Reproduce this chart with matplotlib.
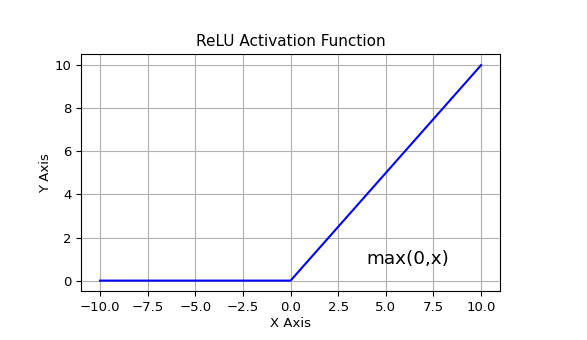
import numpy as np
import matplotlib.pyplot as plt

x = [-10.0, 0.0, 10.0]
y = [0.0, 0.0, 10.0]

fig = plt.figure(figsize=(5.87, 3.4), dpi=100)
ax = fig.add_axes([0.138, 0.143, 0.714, 0.697])
ax.plot(x, y, color="b")
ax.set_xlim(-11, 11)
ax.set_ylim(-0.5, 10.5)
ax.set_xticks(np.arange(-10, 10.1, 2.5))
ax.tick_params(labelsize=9.5)
ax.set_title("ReLU Activation Function", fontsize=11)
ax.set_xlabel("X Axis", fontsize=9.5, labelpad=2)
ax.set_ylabel("Y Axis", fontsize=9.5, labelpad=2)
ax.grid(True)
ax.text(4, 0.75, "max(0,x)", fontsize=13.2)
fig.savefig("out.png", dpi=100)
